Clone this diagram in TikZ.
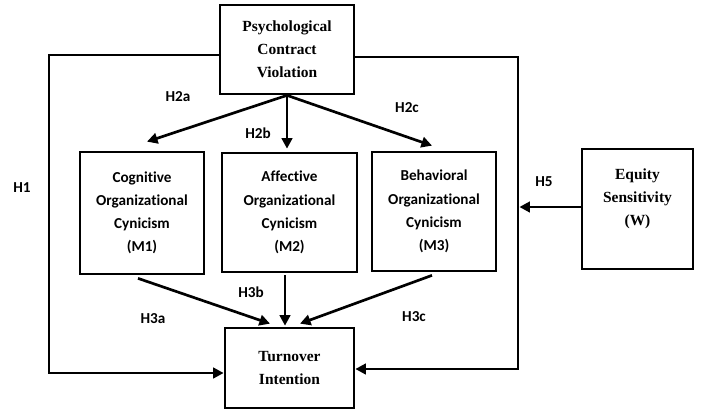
\documentclass[tikz,border=0pt]{standalone}
\usepackage{fontspec}
\setmainfont{Carlito}[Ligatures=NoCommon]
\newfontfamily\timesfont{Liberation Serif}
\usetikzlibrary{arrows.meta}

\begin{document}
\begin{tikzpicture}[
    x=0.025cm, y=-0.025cm,
    serifbox/.style = {rectangle, draw, line width=1.9pt, align=center, inner sep=2pt, font=\timesfont\bfseries\fontsize{11}{16.3}\selectfont},
    sansbox/.style  = {rectangle, draw, line width=1.9pt, align=center, inner sep=2pt, font=\bfseries\fontsize{10.8}{16.5}\selectfont},
    hyp/.style      = {font=\bfseries\fontsize{10.8}{12}\selectfont},
    arrow/.style    = {-{Triangle[length=7.5pt,width=7.5pt]}, line width=1.9pt}
]
\useasboundingbox (0,0) rectangle (702,415);

% --- Konstruk ---
\node[serifbox, minimum width=3.35cm, minimum height=2.225cm] (pcv) at (287,49.5) {Psychological\\ Contract\\ Violation};
\node[sansbox, minimum width=3.1cm, minimum height=3.05cm] (cog) at (142,213) {Cognitive\\ Organizational\\ Cynicism\\ (M1)};
\node[sansbox, minimum width=3.375cm, minimum height=2.975cm] (aff) at (289.5,212.5) {Affective\\ Organizational\\ Cynicism\\ (M2)};
\node[sansbox, minimum width=3.1cm, minimum height=2.975cm] (beh) at (434,211.5) {Behavioral\\ Organizational\\ Cynicism\\ (M3)};
\node[serifbox, minimum width=2.775cm, minimum height=3.0cm] (eq) at (637.5,209) {Equity\\ Sensitivity\\ (W)\\ ~};
\node[serifbox, minimum width=3.225cm, minimum height=2.0cm] (ti) at (289.5,368) {Turnover\\ Intention};

% --- Titik bantu jalur luar ---
\coordinate (ltop) at (49,55);
\coordinate (lbot) at (49,373);
\coordinate (rtop) at (518,57);
\coordinate (rbot) at (518,369);

% --- Arrows ---
\draw[arrow] (pcv.south) -- ([shift={(5,-9)}]cog.north);
\draw[arrow] (pcv.south) -- ([shift={(0,-3)}]pcv.south |- aff.north);
\draw[arrow] (pcv.south) -- ([shift={(-2,-5)}]beh.north);
\draw[arrow] ([shift={(-4,3)}]cog.south) -- ([shift={(-19.5,-3)}]ti.north);
\draw[arrow] ([shift={(-4.5,2)}]aff.south) -- ([shift={(-4.5,-1)}]ti.north);
\draw[arrow] ([shift={(-2,3)}]beh.south) -- ([shift={(10.5,-3)}]ti.north);
\draw[arrow] (pcv.west |- ltop) -- (ltop) -- (lbot) -- (ti.west |- lbot);
\draw[arrow] (pcv.east |- rtop) -- (rtop) -- (rbot) -- (ti.east |- rbot);
\draw[arrow] (eq.west |- 0,207) -- ([xshift=1pt]rtop |- 0,207);

% --- Label hipotesis ---
\node[hyp] (h1) at (22,188) {H1};
\node[hyp] (h2a) at (178,97) {H2a};
\node[hyp] (h2b) at (258,133) {H2b};
\node[hyp] (h2c) at (407,108) {H2c};
\node[hyp] (h3a) at (153,319) {H3a};
\node[hyp] (h3b) at (251,292) {H3b};
\node[hyp] (h3c) at (414,317) {H3c};
\node[hyp] (h5) at (544,182) {H5};

\end{tikzpicture}
\end{document}
